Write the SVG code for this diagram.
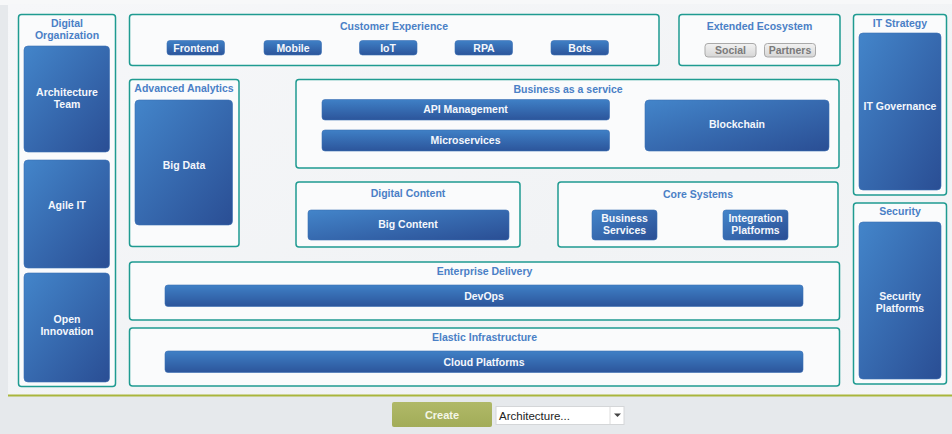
<svg xmlns="http://www.w3.org/2000/svg" width="952" height="434" viewBox="0 0 952 434">
<defs>
<linearGradient id="tile" x1="0" y1="0" x2="1" y2="1">
<stop offset="0" stop-color="#4385ca"/>
<stop offset="1" stop-color="#2a4e94"/>
</linearGradient>
<linearGradient id="bar" x1="0" y1="0" x2="0" y2="1">
<stop offset="0" stop-color="#3f80c6"/>
<stop offset="1" stop-color="#2c559b"/>
</linearGradient>
<linearGradient id="gray" x1="0" y1="0" x2="0" y2="1">
<stop offset="0" stop-color="#f2f2f2"/>
<stop offset="1" stop-color="#d6d6d6"/>
</linearGradient>
<linearGradient id="panel" x1="0" y1="0" x2="1" y2="1">
<stop offset="0" stop-color="#f6f7f9"/>
<stop offset="0.6" stop-color="#f1f3f5"/>
<stop offset="1" stop-color="#f4f5f7"/>
</linearGradient>
<linearGradient id="btn" x1="0" y1="0" x2="0" y2="1">
<stop offset="0" stop-color="#b0b968"/>
<stop offset="1" stop-color="#a2ac58"/>
</linearGradient>
</defs>
<style>
.box{fill:#fafbfc;stroke:#1f9b91;stroke-width:1.5}
.tile{fill:url(#tile);stroke:#3a6fb3;stroke-width:0.6}
.bar{fill:url(#bar);stroke:#3a6fb3;stroke-width:0.6}
.chip{fill:url(#gray);stroke:#a9a9a9;stroke-width:1}
.t{font-family:"Liberation Sans",Arial,sans-serif;font-weight:bold;font-size:10.5px;text-anchor:middle}
.ti{fill:#4a80c6}
.w{fill:#f4f7fc}
.g{fill:#7a7a7a}
</style>
<rect x="0" y="0" width="952" height="434" fill="#e6e9ec"/>
<rect x="0" y="0" width="952" height="5" fill="#f7f8f9"/>
<rect x="8" y="4" width="944" height="391" fill="url(#panel)"/>
<line x1="8" y1="395.5" x2="952" y2="395.5" stroke="#a9b63c" stroke-width="2"/>

<g id="connectors"/>

<g id="digital-organization">
<rect class="box" x="18.5" y="14.5" width="97" height="372" rx="3"/>
<text class="t ti" x="67" y="27">Digital</text>
<text class="t ti" x="67" y="39">Organization</text>
</g>
<g id="architecture-team">
<rect class="tile" x="24" y="46" width="85.5" height="106" rx="4"/>
<text class="t w" x="67" y="96">Architecture</text>
<text class="t w" x="67" y="108">Team</text>
</g>
<g id="agile-it">
<rect class="tile" x="24" y="160" width="85.5" height="108" rx="4"/>
<text class="t w" x="67" y="209">Agile IT</text>
</g>
<g id="open-innovation">
<rect class="tile" x="24" y="273" width="85.5" height="109" rx="4"/>
<text class="t w" x="67" y="323">Open</text>
<text class="t w" x="67" y="335">Innovation</text>
</g>

<g id="customer-experience">
<rect class="box" x="129.5" y="14.5" width="529.5" height="51" rx="3"/>
<text class="t ti" x="394" y="30">Customer Experience</text>
</g>
<g id="frontend"><rect class="bar" x="167" y="40.5" width="57.5" height="14.5" rx="3"/><text class="t w" x="196" y="52">Frontend</text></g>
<g id="mobile"><rect class="bar" x="264" y="40.5" width="57.5" height="14.5" rx="3"/><text class="t w" x="293" y="52">Mobile</text></g>
<g id="iot"><rect class="bar" x="359.5" y="40.5" width="57.5" height="14.5" rx="3"/><text class="t w" x="388" y="52">IoT</text></g>
<g id="rpa"><rect class="bar" x="455" y="40.5" width="57.5" height="14.5" rx="3"/><text class="t w" x="484" y="52">RPA</text></g>
<g id="bots"><rect class="bar" x="551" y="40.5" width="57.5" height="14.5" rx="3"/><text class="t w" x="580" y="52">Bots</text></g>

<g id="extended-ecosystem">
<rect class="box" x="679" y="14.5" width="161" height="51" rx="3"/>
<text class="t ti" x="759.5" y="30">Extended Ecosystem</text>
</g>
<g id="social"><rect class="chip" x="705" y="43.5" width="51" height="13.5" rx="3"/><text class="t g" x="730.5" y="54">Social</text></g>
<g id="partners"><rect class="chip" x="764.5" y="43.5" width="51" height="13.5" rx="3"/><text class="t g" x="790" y="54">Partners</text></g>

<g id="it-strategy">
<rect class="box" x="853.5" y="14.5" width="93" height="180.5" rx="3"/>
<text class="t ti" x="900" y="27">IT Strategy</text>
</g>
<g id="it-governance">
<rect class="tile" x="859" y="33" width="82" height="157" rx="4"/>
<text class="t w" x="900" y="110">IT Governance</text>
</g>

<g id="security">
<rect class="box" x="853.5" y="203" width="93" height="181" rx="3"/>
<text class="t ti" x="900" y="215">Security</text>
</g>
<g id="security-platforms">
<rect class="tile" x="859" y="222" width="82" height="157" rx="4"/>
<text class="t w" x="900" y="300">Security</text>
<text class="t w" x="900" y="312">Platforms</text>
</g>

<g id="advanced-analytics">
<rect class="box" x="129.5" y="79.5" width="109.5" height="167" rx="3"/>
<text class="t ti" x="184" y="92">Advanced Analytics</text>
</g>
<g id="big-data">
<rect class="tile" x="135" y="100" width="97.5" height="125" rx="4"/>
<text class="t w" x="184" y="169">Big Data</text>
</g>

<g id="business-as-a-service">
<rect class="box" x="296" y="79.5" width="543" height="88.5" rx="3"/>
<text class="t ti" x="568" y="93">Business as a service</text>
</g>
<g id="api-management"><rect class="bar" x="322" y="99.5" width="287.5" height="20.5" rx="3"/><text class="t w" x="465.5" y="113">API Management</text></g>
<g id="microservices"><rect class="bar" x="322" y="130" width="287.5" height="21" rx="3"/><text class="t w" x="465.5" y="144">Microservices</text></g>
<g id="blockchain"><rect class="tile" x="645" y="100" width="184" height="51" rx="4"/><text class="t w" x="737" y="128">Blockchain</text></g>

<g id="digital-content">
<rect class="box" x="296" y="182" width="224" height="65" rx="3"/>
<text class="t ti" x="408" y="197">Digital Content</text>
</g>
<g id="big-content"><rect class="tile" x="308" y="210" width="201" height="30" rx="3"/><text class="t w" x="408" y="228">Big Content</text></g>

<g id="core-systems">
<rect class="box" x="558" y="182" width="280" height="65" rx="3"/>
<text class="t ti" x="698" y="198">Core Systems</text>
</g>
<g id="business-services">
<rect class="tile" x="592" y="210" width="65" height="30" rx="3"/>
<text class="t w" x="624.5" y="222">Business</text>
<text class="t w" x="624.5" y="234">Services</text>
</g>
<g id="integration-platforms">
<rect class="tile" x="723" y="210" width="65" height="30" rx="3"/>
<text class="t w" x="755.5" y="222">Integration</text>
<text class="t w" x="755.5" y="234">Platforms</text>
</g>

<g id="enterprise-delivery">
<rect class="box" x="129.5" y="262" width="710" height="58" rx="3"/>
<text class="t ti" x="484.5" y="275">Enterprise Delivery</text>
</g>
<g id="devops"><rect class="bar" x="165" y="285" width="638" height="21.5" rx="3"/><text class="t w" x="484" y="299.5">DevOps</text></g>

<g id="elastic-infrastructure">
<rect class="box" x="129.5" y="328" width="710" height="58" rx="3"/>
<text class="t ti" x="484.5" y="341">Elastic Infrastructure</text>
</g>
<g id="cloud-platforms"><rect class="bar" x="165" y="351" width="638" height="21.5" rx="3"/><text class="t w" x="484" y="365.5">Cloud Platforms</text></g>

<g id="create-button">
<rect x="392" y="402" width="100" height="25" rx="2" fill="url(#btn)"/>
<text class="t" x="442" y="419" fill="#f4f6e6" style="font-size:11px">Create</text>
</g>
<g id="architecture-select">
<rect x="496" y="406.5" width="128" height="18" fill="#ffffff" stroke="#d4d6d8" stroke-width="1"/>
<line x1="610" y1="407" x2="610" y2="424" stroke="#dcdcdc" stroke-width="1"/>
<text x="499" y="419.5" font-family="'Liberation Sans',Arial,sans-serif" font-size="11.5" fill="#222">Architecture...</text>
<polygon points="614,413.5 621,413.5 617.5,417" fill="#444"/>
</g>
</svg>
